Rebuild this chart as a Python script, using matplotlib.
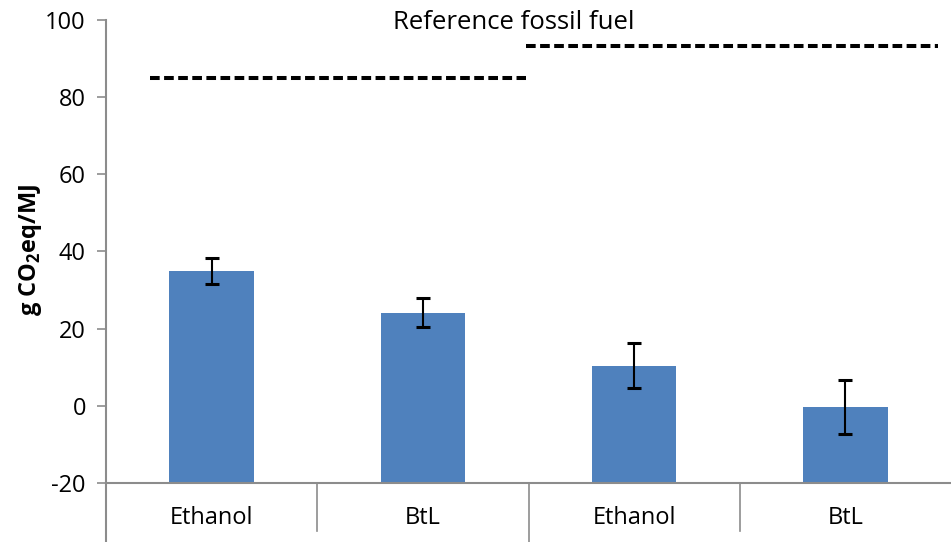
"""Bar chart of GHG emissions per MJ with fossil fuel reference lines."""
import matplotlib
matplotlib.use("Agg")
import matplotlib.pyplot as plt
from matplotlib.transforms import blended_transform_factory

plt.rcParams["font.family"] = ["Open Sans", "DejaVu Sans"]
plt.rcParams["mathtext.fontset"] = "custom"
plt.rcParams["mathtext.rm"] = "Open Sans"
plt.rcParams["mathtext.bf"] = "Open Sans:bold"
plt.rcParams["axes.unicode_minus"] = False

categories = ["Ethanol", "BtL", "Ethanol", "BtL"]
emissions = [34.9, 24.1, 10.4, -0.4]
err_low = [31.6, 20.4, 4.6, -7.2]
err_high = [38.4, 27.9, 16.3, 6.6]
reference_values = [85.0, 93.3]      # one per pair of bars
reference_label = "Reference fossil fuel"

bar_color = "#4F81BD"
axis_gray = "#8C8C8C"
y_min = -20

fig = plt.figure(figsize=(9.51, 5.42), dpi=100)
ax = fig.add_axes([0.1115, 0.109, 0.8885, 0.854])

xs = list(range(len(categories)))
yerr = [[v - lo for v, lo in zip(emissions, err_low)],
        [hi - v for v, hi in zip(emissions, err_high)]]
# Excel draws the bars up from the axis minimum
ax.bar(xs, [v - y_min for v in emissions], width=0.4, bottom=y_min,
       color=bar_color, zorder=2)
ax.errorbar(xs, emissions, yerr=yerr, fmt="none", ecolor="black",
            elinewidth=1.5, capsize=5, capthick=2.2, zorder=3)

ref_spans = [(-0.29, 1.486), (1.49, 3.44)]
for ref, (x0, x1) in zip(reference_values, ref_spans):
    ax.hlines(ref, x0, x1, colors="black", linestyles=(0, (2.4, 1.1)),
              linewidth=2.9, zorder=3)
ax.text(1.43, 99.3, reference_label, ha="center", va="center", fontsize=18.5)

ax.set_xlim(-0.5, len(categories) - 0.5)
ax.set_ylim(y_min, 100)
ax.set_yticks(range(-20, 101, 20))
ax.tick_params(axis="y", direction="out", length=6.5, width=1.2, color=axis_gray,
               labelsize=17, pad=8)
ax.set_xticks([])

for side in ["top", "right", "left"]:
    ax.spines[side].set_visible(False)
ax.spines["bottom"].set_color(axis_gray)
ax.spines["bottom"].set_linewidth(1.5)

trans = blended_transform_factory(ax.transData, ax.transAxes)
# left axis line runs down past the category axis
ax.plot([-0.5, -0.5], [-0.13, 1.0], transform=trans, color=axis_gray,
        linewidth=1.5, clip_on=False)
for i in range(1, len(categories)):
    bottom = -0.13 if i == 2 else -0.103
    ax.plot([i - 0.5, i - 0.5], [0, bottom], transform=trans,
            color=axis_gray, linewidth=1.2, clip_on=False)
for x, name in zip(xs, categories):
    ax.text(x, -0.076, name, transform=trans, ha="center", va="center",
            fontsize=17)

fig.text(30 / 951, 0.5397, r"g CO$_\mathbf{2}$eq/MJ", rotation=90,
         ha="center", va="center", fontsize=17, fontweight="bold")

fig.savefig("out.png", dpi=100)
